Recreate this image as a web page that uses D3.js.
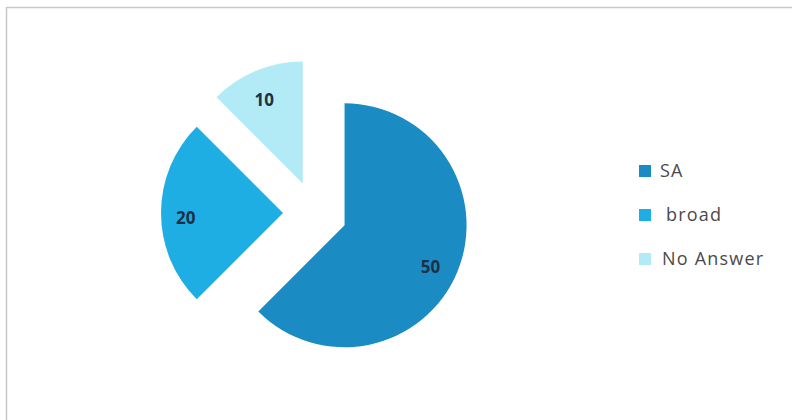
<!DOCTYPE html>
<html>
<head>
<meta charset="utf-8">
<script src="https://cdn.jsdelivr.net/npm/d3@7"></script>
<style>
  html, body { margin: 0; padding: 0; background: #ffffff; }
  svg { display: block; }
</style>
</head>
<body>
<svg id="chart" width="792" height="420"></svg>
<script>
// Survey answers
const categories = ["SA", "broad", "No Answer"];
const values = [50, 20, 10];
const colors = ["#1a8bc3", "#1eaee4", "#b2ebf6"];

const width = 792, height = 420;
const svg = d3.select("#chart");

// Chart frame (top and left edges)
svg.append("line").attr("x1", 6).attr("y1", 7.5).attr("x2", 792).attr("y2", 7.5)
  .attr("stroke", "#c8c8c8").attr("stroke-width", 1.5);
svg.append("line").attr("x1", 6.5).attr("y1", 7).attr("x2", 6.5).attr("y2", 420)
  .attr("stroke", "#c8c8c8").attr("stroke-width", 1.5);

const cx = 315, cy = 213;
const radius = 122;
const explode = 32;

const pie = d3.pie().sort(null).value(d => d)(values);
const arc = d3.arc().innerRadius(0).outerRadius(radius);
const labelArc = d3.arc().innerRadius(radius * 0.78).outerRadius(radius * 0.78);

const g = svg.append("g").attr("transform", `translate(${cx},${cy})`);

const slices = g.selectAll("g.slice").data(pie).enter().append("g")
  .attr("class", "slice")
  .attr("transform", d => {
    const a = (d.startAngle + d.endAngle) / 2;
    return `translate(${explode * Math.sin(a)},${-explode * Math.cos(a)})`;
  });

slices.append("path")
  .attr("d", arc)
  .attr("fill", (d, i) => colors[i]);

// Value labels sit slightly below the bisector point
slices.append("text")
  .attr("transform", d => {
    const [x, y] = labelArc.centroid(d);
    return `translate(${x - 2},${y + 5})`;
  })
  .attr("text-anchor", "middle")
  .attr("dy", "0.35em")
  .attr("font-family", "'Open Sans', Lato, sans-serif")
  .attr("font-size", 17)
  .attr("font-weight", "bold")
  .attr("fill", "#1d3146")
  .text(d => d.data);

// Legend
const legend = svg.append("g").attr("transform", "translate(639,171)");
const item = legend.selectAll("g").data(categories).enter().append("g")
  .attr("transform", (d, i) => `translate(0,${i * 44})`);
item.append("rect")
  .attr("x", 0).attr("y", -6).attr("width", 12).attr("height", 12)
  .attr("fill", (d, i) => colors[i]);
item.append("text")
  .attr("x", (d, i) => i === 1 ? 27 : i === 2 ? 23 : 21)
  .attr("y", 0)
  .attr("dy", "0.36em")
  .attr("font-family", "'Open Sans', Lato, sans-serif")
  .attr("font-size", 18)
  .attr("letter-spacing", 1.2)
  .attr("fill", "#4a4a4a")
  .text(d => d);
</script>
</body>
</html>
